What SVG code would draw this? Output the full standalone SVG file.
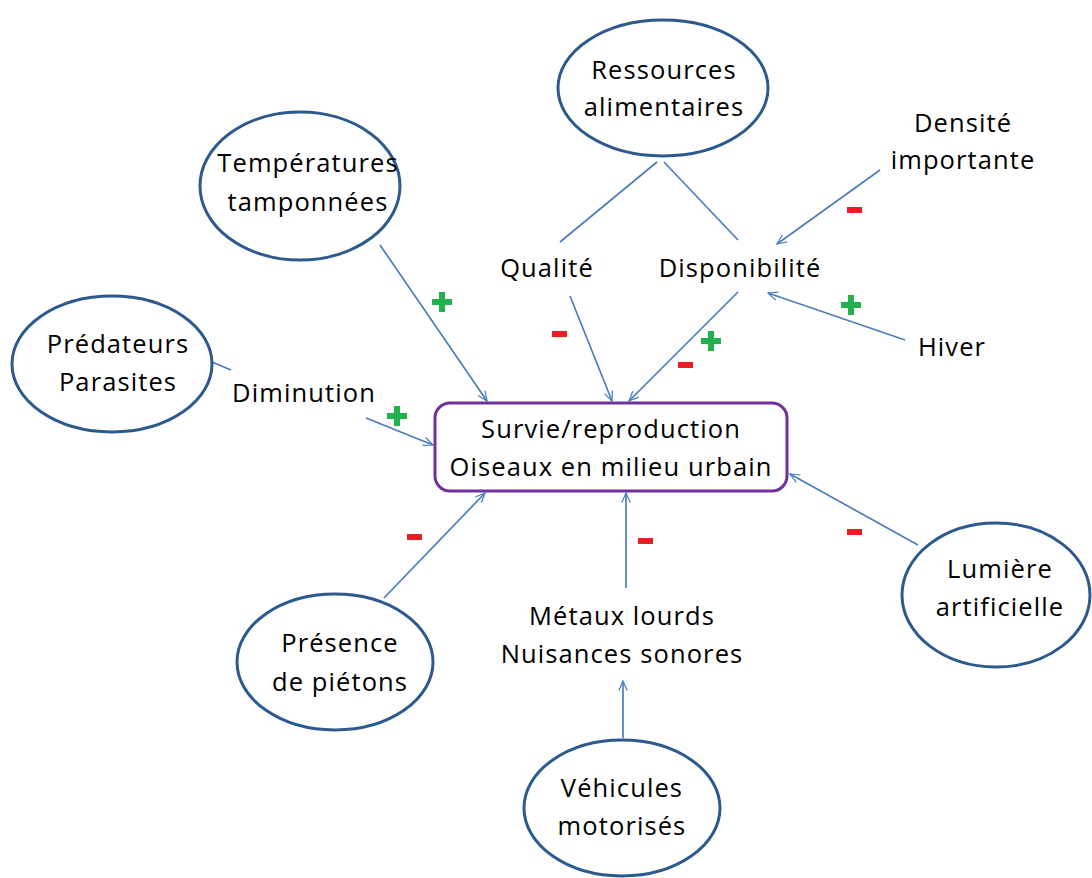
<svg xmlns="http://www.w3.org/2000/svg" width="1092" height="878" viewBox="0 0 1092 878">
<defs>
<style>
.t{font-family:"Open Sans",Lato,sans-serif;font-size:25.5px;letter-spacing:1.1px;fill:#000;text-anchor:middle}
.e{fill:#fff;stroke:#2C5A8E;stroke-width:3}
.c{stroke:#4A7EBB;stroke-width:1.7;fill:none}
.a{marker-end:url(#arr)}
.p{fill:#22B14C}
.m{fill:#ED1C24}
</style>
<marker id="arr" viewBox="0 0 20 20" refX="18" refY="10" markerWidth="12" markerHeight="12" markerUnits="userSpaceOnUse" orient="auto">
<path d="M2,3 L18,10 L2,17" fill="none" stroke="#4A7EBB" stroke-width="2"/>
</marker>
</defs>
<rect width="1092" height="878" fill="#fff"/>
<g id="connectors">
<line class="c" x1="657" y1="162" x2="560" y2="242"/>
<line class="c" x1="664" y1="162" x2="738" y2="240"/>
<line class="c" x1="212" y1="362" x2="231" y2="370"/>
<line class="c a" x1="380" y1="245" x2="487" y2="401"/>
<line class="c a" x1="366" y1="418" x2="433" y2="445"/>
<line class="c a" x1="570" y1="296" x2="612" y2="401"/>
<line class="c a" x1="738" y1="292" x2="629" y2="401"/>
<line class="c a" x1="880" y1="170" x2="777" y2="244"/>
<line class="c a" x1="905" y1="340" x2="768" y2="293"/>
<line class="c a" x1="918" y1="545" x2="790" y2="474"/>
<line class="c a" x1="384" y1="598" x2="485" y2="493"/>
<line class="c a" x1="626" y1="588" x2="626" y2="493"/>
<line class="c a" x1="623" y1="738" x2="623" y2="681"/>
</g>
<g id="signs">
<path class="p" d="M439,292h6v7h7v6h-7v7h-6v-7h-7v-6h7z"/>
<path class="p" d="M394,406h6v7h7v6h-7v7h-6v-7h-7v-6h7z"/>
<path class="p" d="M708,331h6v7h7v6h-7v7h-6v-7h-7v-6h7z"/>
<path class="p" d="M848,295h6v7h7v6h-7v7h-6v-7h-7v-6h7z"/>
<rect class="m" x="552" y="331" width="15" height="6"/>
<rect class="m" x="678" y="362" width="15" height="6"/>
<rect class="m" x="847" y="207" width="15" height="6"/>
<rect class="m" x="407" y="534" width="15" height="6"/>
<rect class="m" x="638" y="538" width="15" height="6"/>
<rect class="m" x="847" y="529" width="15" height="6"/>
</g>
<g id="main">
<rect x="435" y="403" width="352" height="88" rx="15" fill="#fff" stroke="#7030A0" stroke-width="3"/>
<text class="t" x="611" y="438">Survie/reproduction</text>
<text class="t" x="611" y="476">Oiseaux en milieu urbain</text>
</g>
<g id="ressources">
<ellipse class="e" cx="663" cy="88" rx="105" ry="68"/>
<text class="t" x="664" y="79">Ressources</text>
<text class="t" x="664" y="116">alimentaires</text>
</g>
<g id="temperatures">
<ellipse class="e" cx="300" cy="186" rx="100" ry="74"/>
<text class="t" x="308" y="172">Températures</text>
<text class="t" x="308" y="211">tamponnées</text>
</g>
<g id="predateurs">
<ellipse class="e" cx="112" cy="364" rx="100" ry="68"/>
<text class="t" x="118" y="353">Prédateurs</text>
<text class="t" x="118" y="391">Parasites</text>
</g>
<g id="presence">
<ellipse class="e" cx="335" cy="662" rx="98" ry="68"/>
<text class="t" x="340" y="652">Présence</text>
<text class="t" x="340" y="691">de piétons</text>
</g>
<g id="vehicules">
<ellipse class="e" cx="622" cy="808" rx="98" ry="68"/>
<text class="t" x="622" y="797">Véhicules</text>
<text class="t" x="622" y="835">motorisés</text>
</g>
<g id="lumiere">
<ellipse class="e" cx="996" cy="595" rx="94" ry="72"/>
<text class="t" x="1000" y="578">Lumière</text>
<text class="t" x="1000" y="616">artificielle</text>
</g>
<g id="densite">
<text class="t" x="963" y="132">Densité</text>
<text class="t" x="963" y="169">importante</text>
</g>
<g id="qualite"><text class="t" x="547" y="277">Qualité</text></g>
<g id="disponibilite"><text class="t" x="740" y="277">Disponibilité</text></g>
<g id="hiver"><text class="t" x="952" y="356">Hiver</text></g>
<g id="diminution"><text class="t" x="304" y="402">Diminution</text></g>
<g id="metaux">
<text class="t" x="622" y="625">Métaux lourds</text>
<text class="t" x="622" y="663">Nuisances sonores</text>
</g>
</svg>
